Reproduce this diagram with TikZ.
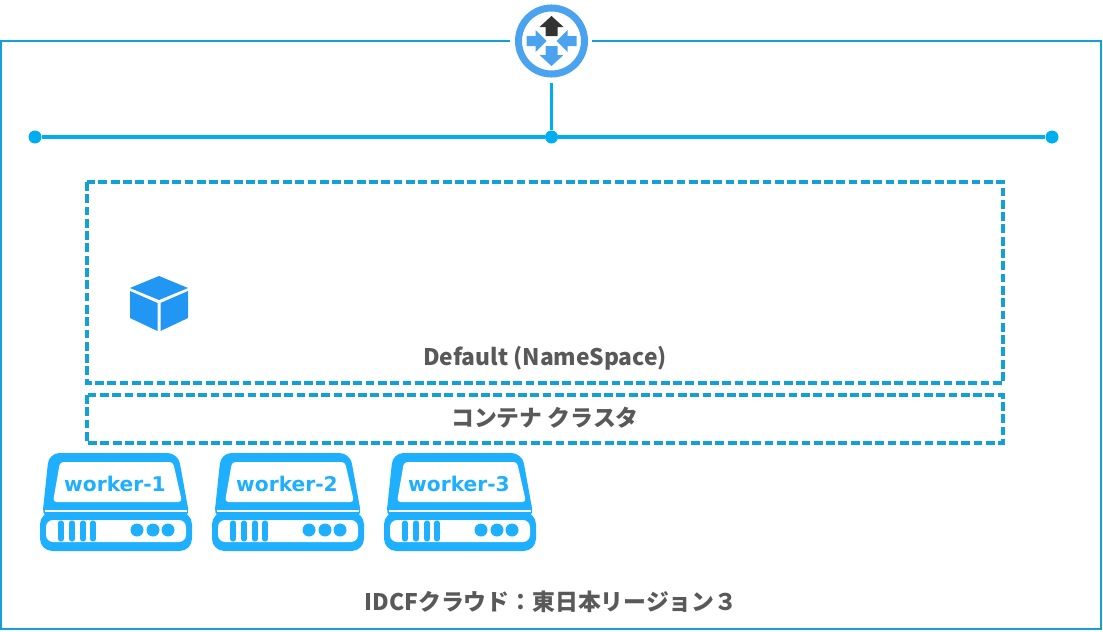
\documentclass[tikz,border=0pt]{standalone}
\usepackage{fontspec}
\setmainfont{Noto Sans CJK JP}
\newfontfamily\workerfont{DejaVu Sans}
\definecolor{linecol}{HTML}{12A0D6}
\definecolor{buscol}{HTML}{00ADEF}
\definecolor{workercol}{HTML}{1EB0FF}
\definecolor{routercol}{HTML}{4BA3F0}
\definecolor{cubecol}{HTML}{2196F3}
\definecolor{textcol}{HTML}{595959}
\tikzset{
  border/.style={draw=linecol, line width=0.9pt},
  busline/.style={draw=buscol, line width=2.2pt},
  busdot/.style={circle, fill=buscol, inner sep=0pt, minimum size=7.4pt},
  dashbox/.style={draw=linecol, line width=2.1pt, dash pattern=on 5pt off 2pt},
  caption/.style={text=textcol, font=\bfseries\fontsize{13}{15}\selectfont, inner sep=0pt},
  workerbox/.pic={
    % monitor
    \fill[workercol, rounded corners=6pt] (2,66) -- (9,0) -- (138,0) -- (150,66) -- cycle;
    \fill[white, rounded corners=2pt] (13,49) -- (20,9) -- (133,9) -- (142,49) -- cycle;
    % base
    \fill[workercol, rounded corners=7pt] (0,59) rectangle (152,98);
    \fill[white, rounded corners=4pt] (6,67) rectangle (146,89);
    \draw[white, line width=0.7pt] (5,58) -- (147,58);
    \foreach \x in {21,32,43,53} {
      \draw[workercol, line width=2.9pt, line cap=round] (\x,70) -- (\x,86);
    }
    \foreach \x in {97,113,128} {
      \fill[workercol] (\x,77) circle (6.5);
    }
    \node[text=workercol, inner sep=0pt, font=\workerfont\bfseries\fontsize{11.5}{14}\selectfont] (-label) at (75,31) {#1};
  }
}
\begin{document}
\begin{tikzpicture}[x=0.02cm, y=-0.02cm]
  \useasboundingbox (0,0) rectangle (1103,632);

  % Outer frame
  \node[circle, inner sep=0pt, minimum size=47.6pt] (router) at (551.5,41) {};
  \coordinate (frameL) at (510,41);
  \coordinate (frameR) at (592,41);
  \draw[border] (frameL) -- (1,41) -- (1,629) -- (1101,629) -- (1101,41) -- (frameR);

  % Router
  \draw[routercol, line width=4pt] (router.center) circle (33);
  \begin{scope}[shift={(551.5,41)}]
    \fill[black!80] (0,-25) -- (12,-14) -- (6,-14) -- (6,-5) -- (-6,-5) -- (-6,-14) -- (-12,-14) -- cycle;
    \fill[routercol] (0,25) -- (12,14) -- (6,14) -- (6,5) -- (-6,5) -- (-6,14) -- (-12,14) -- cycle;
    \fill[routercol] (-5,0) -- (-16,-11) -- (-16,-5) -- (-25,-5) -- (-25,5) -- (-16,5) -- (-16,11) -- cycle;
    \fill[routercol] (5,0) -- (16,-11) -- (16,-5) -- (25,-5) -- (25,5) -- (16,5) -- (16,11) -- cycle;
  \end{scope}

  % Bus
  \node[busdot] (busL) at (35,137) {};
  \node[busdot] (busM) at (551.5,137) {};
  \node[busdot] (busR) at (1052,137) {};
  \draw[busline] (busL) -- (busM);
  \draw[busline] (busM) -- (busR);
  \draw[busline] (router) -- (busM);

  % Boxes
  \draw[dashbox] (87,182) rectangle (1003,383);
  \draw[dashbox] (87,395) rectangle (1003,443);

  % Cube
  \fill[cubecol] (159,276) -- (188,288) -- (159,300) -- (130,288) -- cycle;
  \fill[cubecol] (130,291) -- (157.5,303) -- (157.5,331) -- (130,318) -- cycle;
  \fill[cubecol] (188,291) -- (160.5,303) -- (160.5,331) -- (188,318) -- cycle;

  % Captions
  \node[caption] (nsLabel) at (545,358) {Default (NameSpace)};
  \node[caption] (clusterLabel) at (545,418) {コンテナ クラスタ};
  \node[caption] (regionLabel) at (551,602) {IDCFクラウド：東日本リージョン３};

  % Workers
  \foreach \i/\x in {1/40,2/212,3/384} {
    \pic (worker\i) at (\x,453) {workerbox={worker-\i}};
  }
\end{tikzpicture}
\end{document}
